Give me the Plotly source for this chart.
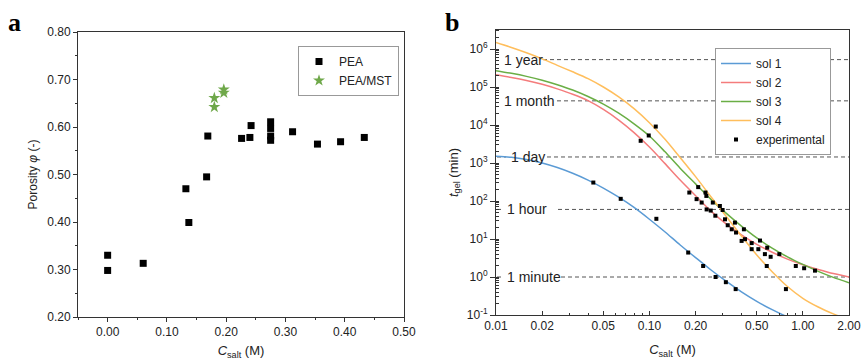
import math
import plotly.graph_objects as go

# ---------------- Panel a data ----------------
pea_c = [0.0, 0.0, 0.060, 0.132, 0.137, 0.167, 0.169, 0.226, 0.240, 0.242,
         0.275, 0.275, 0.275, 0.275, 0.312, 0.354, 0.393, 0.433]
pea_phi = [0.330, 0.298, 0.313, 0.470, 0.399, 0.495, 0.581, 0.576, 0.578, 0.603,
           0.611, 0.597, 0.581, 0.572, 0.590, 0.564, 0.569, 0.578]
mst_c = [0.180, 0.180, 0.196, 0.196]
mst_phi = [0.661, 0.642, 0.679, 0.672]

# ---------------- Panel b data ----------------
# model curves at log-spaced salt concentrations
curve_c = [0.0100, 0.0126, 0.0158, 0.0200, 0.0251, 0.0316, 0.0398, 0.0501,
           0.0631, 0.0794, 0.100, 0.126, 0.158, 0.200, 0.251, 0.316,
           0.398, 0.501, 0.631, 0.794, 1.00, 1.26, 1.58, 2.00]
sol1_t = [1514, 1413, 1230, 1000, 759, 537, 355, 219,
          126, 67.6, 33.1, 15.5, 7.08, 3.24, 1.55, 0.776,
          0.407, 0.229, 0.138, 0.089, 0.060, 0.045, 0.035, 0.028]
sol2_t = [208930, 177828, 147911, 117490, 89125, 64565, 43652, 25704,
          13490, 6310, 2630, 977, 363, 138, 55.0, 25.1,
          12.9, 7.24, 4.47, 2.95, 2.09, 1.58, 1.23, 1.00]
sol3_t = [269153, 229087, 190546, 151356, 114815, 83176, 56234, 35481,
          20417, 10715, 5129, 1995, 741, 282, 112, 47.9,
          21.9, 10.7, 5.75, 3.39, 2.14, 1.41, 0.977, 0.708]
sol4_t = [1479108, 1096478, 794328, 549541, 371535, 251189, 165959, 100000,
          54954, 26915, 11482, 4266, 1413, 437, 132, 39.8,
          12.0, 3.80, 1.38, 0.562, 0.275, 0.162, 0.107, 0.074]

exp_c = [0.0431, 0.065, 0.0877, 0.099, 0.110, 0.111, 0.179, 0.182, 0.203, 0.208,
         0.219, 0.224, 0.232, 0.235, 0.236, 0.251, 0.259, 0.269, 0.270, 0.288,
         0.300, 0.311, 0.315, 0.324, 0.344, 0.361, 0.365, 0.367, 0.399, 0.413,
         0.420, 0.464, 0.464, 0.513, 0.526, 0.566, 0.582, 0.586, 0.617, 0.703,
         0.776, 0.900, 1.02, 1.20]
exp_t = [306, 114, 3840, 5300, 9100, 34, 4.4, 167, 112, 232,
         91, 1.95, 167, 136, 60, 56, 91, 41, 1.0, 74,
         58, 33, 0.73, 23, 18, 27, 0.48, 14.8, 8.9, 18,
         9.9, 7.8, 5.4, 5.4, 9.1, 4.0, 1.95, 5.9, 3.4, 4.0,
         0.48, 1.95, 1.7, 1.47]

# reference times (minutes)
ref_labels = ["1 year", "1 month", "1 day", "1 hour", "1 minute"]
ref_minutes = [525600, 43200, 1440, 60, 1]

# tick labels
a_xticks = [0.0, 0.1, 0.2, 0.3, 0.4, 0.5]
a_yticks = [0.2, 0.3, 0.4, 0.5, 0.6, 0.7, 0.8]
b_xticks = [0.01, 0.02, 0.05, 0.10, 0.20, 0.50, 1.00, 2.00]
b_xtext = ["0.01", "0.02", "0.05", "0.10", "0.20", "0.50", "1.00", "2.00"]
b_yexp = [-1, 0, 1, 2, 3, 4, 5, 6]

# ---------------- styling ----------------
FONT = "Liberation Sans, Arial, sans-serif"
TXT = "#222222"
C_BLUE = "#5B9BD5"
C_RED = "#F47C7C"
C_GREEN = "#6AAE45"
C_ORANGE = "#FFBE5C"
C_STAR = "#6FA84A"

W, H = 862, 360
ax_l, ax_r, ax_t, ax_b = 78, 404, 32, 317
bx_l, bx_r, bx_t, bx_b = 496, 849, 30, 315

fig = go.Figure()

# panel a
fig.add_trace(go.Scatter(x=pea_c, y=pea_phi, mode="markers", name="PEA",
                         marker=dict(symbol="square", size=7, color="black"),
                         xaxis="x", yaxis="y", legend="legend"))
fig.add_trace(go.Scatter(x=mst_c, y=mst_phi, mode="markers", name="PEA/MST",
                         marker=dict(symbol="star", size=9, color=C_STAR),
                         xaxis="x", yaxis="y", legend="legend"))

# panel b
for name, ty, col in [("sol 1", sol1_t, C_BLUE),
                      ("sol 2", sol2_t, C_RED),
                      ("sol 3", sol3_t, C_GREEN),
                      ("sol 4", sol4_t, C_ORANGE)]:
    fig.add_trace(go.Scatter(x=curve_c, y=ty, mode="lines", name=name,
                             line=dict(color=col, width=1.5, shape="spline", smoothing=0.8),
                             xaxis="x2", yaxis="y2", legend="legend2"))
fig.add_trace(go.Scatter(x=exp_c, y=exp_t, mode="markers", name="experimental",
                         marker=dict(symbol="square", size=4, color="black"),
                         xaxis="x2", yaxis="y2", legend="legend2"))

axis_common = dict(showgrid=False, zeroline=False, showline=True, linecolor="#333333",
                   linewidth=1, mirror=True, tickcolor="#333333",
                   tickfont=dict(family=FONT, size=12, color=TXT), automargin=False)

fig.update_layout(
    width=W, height=H,
    margin=dict(l=0, r=0, t=0, b=0),
    paper_bgcolor="white", plot_bgcolor="white",
    font=dict(family=FONT, size=12, color=TXT),
    xaxis=dict(domain=[ax_l / W, ax_r / W], anchor="y", range=[-0.05, 0.5],
               tickmode="array", tickvals=a_xticks, tickformat=".2f",
               ticks="outside", ticklen=4,
               minor=dict(ticks="outside", ticklen=2, dtick=0.05, tick0=0, tickcolor="#333333"),
               title=dict(text="<i>C</i><sub>salt</sub> (M)", font=dict(size=13), standoff=12),
               **axis_common),
    yaxis=dict(domain=[1 - ax_b / H, 1 - ax_t / H], anchor="x", range=[0.2, 0.8],
               tickmode="array", tickvals=a_yticks, tickformat=".2f",
               ticks="outside", ticklen=4,
               minor=dict(ticks="outside", ticklen=2, dtick=0.05, tick0=0, tickcolor="#333333"),
               title=dict(text="Porosity <i>φ</i> (-)", font=dict(size=12), standoff=7),
               **axis_common),
    xaxis2=dict(domain=[bx_l / W, bx_r / W], anchor="y2", type="log",
                range=[-2, math.log10(2.0)],
                tickmode="array", tickvals=b_xticks, ticktext=b_xtext,
                ticks="inside", ticklen=4,
                minor=dict(ticks="inside", ticklen=2, dtick="D1", tickcolor="#333333"),
                title=dict(text="<i>C</i><sub>salt</sub> (M)", font=dict(size=13), standoff=12),
                **axis_common),
    yaxis2=dict(domain=[1 - bx_b / H, 1 - bx_t / H], anchor="x2", type="log",
                range=[-1, 6.5],
                tickmode="array", tickvals=[10.0 ** e for e in b_yexp],
                ticktext=["10<sup>%d</sup>" % e for e in b_yexp],
                ticks="outside", ticklen=5,
                minor=dict(ticks="inside", ticklen=3, dtick="D1", tickcolor="#333333"),
                title=dict(text="<i>t</i><sub>gel</sub> (min)", font=dict(size=13), standoff=5),
                **axis_common),
    legend=dict(x=298 / W, y=1 - 46 / H, xanchor="left", yanchor="top",
                bgcolor="white", bordercolor="#999999", borderwidth=1,
                font=dict(family=FONT, size=12, color=TXT),
                tracegroupgap=0, itemwidth=30),
    legend2=dict(x=715 / W, y=1 - 48 / H, xanchor="left", yanchor="top",
                 bgcolor="white", bordercolor="#999999", borderwidth=1,
                 font=dict(family=FONT, size=12, color=TXT),
                 tracegroupgap=0, itemwidth=30),
    showlegend=True,
)

# panel letters
fig.add_annotation(text="<b>a</b>", xref="paper", yref="paper", x=14 / W, y=1 - 22 / H,
                   showarrow=False, xanchor="center", yanchor="middle",
                   font=dict(family="Liberation Serif, Times New Roman, serif", size=26, color="black"))
fig.add_annotation(text="<b>b</b>", xref="paper", yref="paper", x=452 / W, y=1 - 22 / H,
                   showarrow=False, xanchor="center", yanchor="middle",
                   font=dict(family="Liberation Serif, Times New Roman, serif", size=26, color="black"))

# reference lines with labels (label start / dashed-line start in px)
label_start_px = [502, 502, 509, 505, 505]
dash_start_px = [543, 557, 547, 558, 561]
bw = bx_r - bx_l
for lab, val, ls, ds in zip(ref_labels, ref_minutes, label_start_px, dash_start_px):
    fig.add_shape(type="line", xref="x2 domain", yref="y2",
                  x0=(ds - bx_l) / bw, x1=1, y0=val, y1=val,
                  line=dict(color="#555555", width=1, dash="4px,3px"), layer="below")
    if ls - bx_l > 6:
        fig.add_shape(type="line", xref="x2 domain", yref="y2",
                      x0=1 / bw, x1=(ls - 3 - bx_l) / bw, y0=val, y1=val,
                      line=dict(color="#555555", width=1, dash="4px,3px"), layer="below")
    fig.add_annotation(text=lab, xref="x2 domain", yref="y2",
                       x=(ls - bx_l) / bw, y=math.log10(val),
                       xanchor="left", yanchor="middle", showarrow=False,
                       font=dict(family=FONT, size=14, color=TXT))

fig.write_html("out.html")
